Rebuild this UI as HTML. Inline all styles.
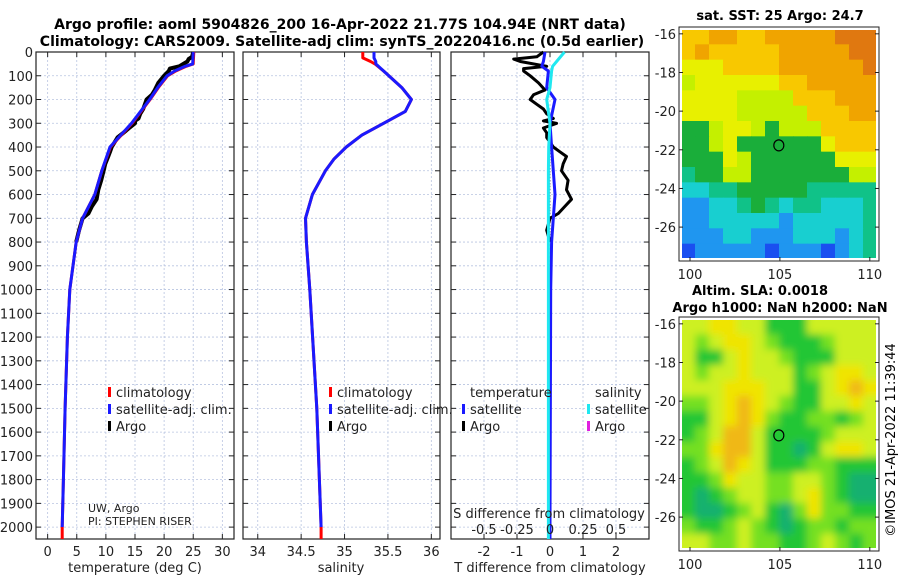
<!DOCTYPE html>
<html><head><meta charset="utf-8"><style>
html,body{margin:0;padding:0;background:#fff}
svg{display:block;font-family:"DejaVu Sans","Liberation Sans",sans-serif}
</style></head><body>
<svg id="c" width="900" height="580" viewBox="0 0 900 580" xmlns="http://www.w3.org/2000/svg">
<defs>
<filter id="blur" x="-5%" y="-5%" width="110%" height="110%"><feGaussianBlur stdDeviation="4"/></filter>
<clipPath id="slaClip"><rect x="681" y="319" width="196" height="230"/></clipPath>
</defs>
<text x="340" y="29" text-anchor="middle" font-size="14" font-weight="bold">Argo profile: aoml 5904826_200 16-Apr-2022 21.77S 104.94E (NRT data)</text>
<text x="342" y="46" text-anchor="middle" font-size="14" font-weight="bold">Climatology: CARS2009. Satellite-adj clim: synTS_20220416.nc (0.5d earlier)</text>
<text x="780" y="20" text-anchor="middle" font-size="13" font-weight="bold">sat. SST: 25 Argo: 24.7</text>
<text x="760" y="295" text-anchor="middle" font-size="13" font-weight="bold">Altim. SLA: 0.0018</text>
<text x="780" y="312" text-anchor="middle" font-size="13" font-weight="bold">Argo h1000: NaN h2000: NaN</text>
<text transform="translate(895,440) rotate(-90)" text-anchor="middle" font-size="13">©IMOS 21-Apr-2022 11:39:44</text>
<g id="g"></g>
</svg>
<script>
// ---- data ----
const depthT = [0,50,60,80,100,150,200,300,400,500,600,700,800,1000,1200,1500,1800,2000,2050];
const tempClim = [25.1,25.0,23.8,22.0,20.6,19.0,17.6,14.5,10.8,9.3,8.1,6.0,4.9,3.8,3.4,3.0,2.7,2.5,2.5];
const tempSat  = [25.0,24.9,23.6,21.8,20.5,18.9,17.5,14.4,10.7,9.3,8.1,6.0,4.9,3.8,3.4,3.0,2.7,2.5,2.5];
const depthA = [0,20,30,40,60,70,80,100,130,160,180,200,220,240,260,280,290,300,320,340,360,400,420,440,470,500,540,580,620,650,680,700,750,800];
const tempArgo = [25.0,24.8,24.2,24.0,22.6,21.0,20.8,20.0,19.0,18.4,17.9,17.0,16.7,16.4,15.9,15.6,15.0,15.0,14.0,13.0,12.0,11.0,10.7,10.4,9.9,9.6,9.2,8.7,8.4,7.6,7.0,6.0,5.4,4.9];
const depthS = [0,25,40,50,80,150,200,250,300,350,400,450,500,600,700,800,1000,1500,2000,2050];
const salClim = [35.21,35.21,35.30,35.35,35.45,35.66,35.77,35.70,35.45,35.20,35.02,34.88,34.78,34.63,34.55,34.56,34.60,34.68,34.73,34.73];
const salSat  = [35.34,35.34,35.36,35.36,35.45,35.66,35.77,35.70,35.45,35.20,35.02,34.88,34.78,34.63,34.55,34.56,34.60,34.68,34.73,34.73];
const tdiffArgo = [-0.2,-0.4,-1.1,-0.9,-0.1,-0.8,-0.8,-0.6,-0.35,-0.15,-0.5,-0.6,-0.4,-0.2,-0.1,0.1,-0.2,0.2,-0.2,-0.1,-0.1,0.1,0.3,0.5,0.4,0.35,0.55,0.5,0.65,0.45,0.25,0.0,-0.1,0.0];
const depthD = [0,40,60,80,150,200,300,400,500,600,700,800,1000,2000,2050];
const tdiffSat = [-0.15,-0.2,-0.25,-0.05,-0.1,0.15,0.0,0.05,0.1,0.15,0.1,0.05,0.02,0.0,0.0];
const sdiffSat = [0.11,0.05,0.02,0.012,0.0,-0.025,0.0,-0.01,-0.012,-0.012,-0.012,-0.012,-0.012,-0.012,-0.012];
const depthTicks = [0,100,200,300,400,500,600,700,800,900,1000,1100,1200,1300,1400,1500,1600,1700,1800,1900,2000];
const tempTicks = [0,5,10,15,20,25,30];
const salTicks = [34,34.5,35,35.5,36];
const salTickLabels = ["34","34.5","35","35.5","36"];
const tdTicks = [-2,-1,0,1,2];
const sdTicks = [-0.5,-0.25,0,0.25,0.5];
const sdTickLabels = ["-0.5","-0.25","0","0.25","0.5"];
const lonTicks = [100,105,110];
const latTicks = [-16,-18,-20,-22,-24,-26];
const argoLon = 104.94, argoLat = -21.77;
const sstGrid = [
[8,8,9,9,8,8,9,9,9,9,9,10,10,10],
[8,9,8,8,8,8,8,9,9,9,9,9,10,10],
[7,7,7,8,8,8,8,9,9,9,9,9,9,10],
[6,7,7,7,7,7,7,8,8,9,9,9,9,9],
[7,7,7,7,6,6,6,6,8,8,8,9,9,9],
[7,7,7,7,6,6,6,6,6,8,8,8,9,9],
[5,5,6,7,7,6,5,6,6,6,8,8,8,8],
[5,5,6,7,5,5,5,5,5,5,7,8,8,8],
[5,5,5,7,6,5,5,5,5,5,5,7,7,7],
[4,5,5,6,6,5,5,5,5,5,5,5,6,6],
[3,3,4,4,5,5,5,5,5,4,4,4,4,4],
[2,2,3,3,4,5,4,3,4,4,3,3,3,4],
[2,2,3,3,3,3,3,2,3,3,3,3,3,4],
[2,2,2,3,3,2,2,2,3,3,3,2,3,4],
[1,2,2,2,2,2,1,2,2,2,1,2,3,4]];
const slaGrid = [
[4,4,5,5,4,4,2,2,2,4,4,4,4,4],
[4,3,4,5,5,4,3,2,2,2,3,4,4,4],
[4,2,2,4,5,4,4,3,2,2,2,4,4,4],
[4,3,4,4,5,4,4,4,2,3,4,5,5,4],
[4,4,4,5,5,5,4,4,2,2,4,5,6,5],
[3,3,4,5,6,5,4,3,2,2,4,4,5,4],
[2,2,4,5,6,5,3,2,2,3,3,2,3,4],
[2,3,4,6,6,4,2,2,2,2,3,4,4,4],
[3,3,5,6,6,4,2,2,1,2,4,5,5,4],
[2,3,4,6,5,4,2,2,2,3,3,2,2,2],
[2,2,3,5,4,4,3,3,4,4,3,2,1,1],
[2,1,2,3,4,4,3,3,4,5,3,2,1,1],
[2,1,1,2,3,4,2,1,3,5,3,3,2,2],
[3,2,2,3,4,3,2,1,2,3,3,2,3,3],
[4,4,3,3,4,3,3,2,2,3,4,3,2,3]];

// ---- helpers ----
const NS="http://www.w3.org/2000/svg", G=document.getElementById('g');
function mk(tag,attrs,parent){const e=document.createElementNS(NS,tag);for(const k in attrs)e.setAttribute(k,attrs[k]);(parent||G).appendChild(e);return e;}
function txt(x,y,s,size,anchor,parent){const e=mk('text',{x:x,y:y,'font-size':size||13,'text-anchor':anchor||'middle',fill:'#222'},parent);e.textContent=s;return e;}
const plotTop=52, plotBot=539, dMax=2050;
const yD=d=>plotTop+(d/dMax)*(plotBot-plotTop);
function lin(d0,d1,r0,r1){return v=>r0+(v-d0)/(d1-d0)*(r1-r0);}

function panel(name,x0,x1,xs,xTicks,xLabels,showY){
  const g=mk('g',{});
  
  
  xTicks.forEach(t=>{const l=mk('line',{x1:xs(t),x2:xs(t),y1:plotTop,y2:plotBot,stroke:'#b8c4e0','stroke-width':0.8,'stroke-dasharray':'2,2'},g);});
  depthTicks.forEach(d=>{const l=mk('line',{x1:x0,x2:x1,y1:yD(d),y2:yD(d),stroke:'#b8c4e0','stroke-width':0.8,'stroke-dasharray':'2,2'},g);
    mk('line',{x1:x0,x2:x0+5,y1:yD(d),y2:yD(d),stroke:'#222'},g);mk('line',{x1:x1,x2:x1-5,y1:yD(d),y2:yD(d),stroke:'#222'},g);
    if(showY){const t=txt(33,yD(d)+5,String(d),13,'end',g);}});
  xTicks.forEach((t,i)=>{mk('line',{x1:xs(t),x2:xs(t),y1:plotBot,y2:plotBot-5,stroke:'#222'},g);mk('line',{x1:xs(t),x2:xs(t),y1:plotTop,y2:plotTop+5,stroke:'#222'},g);
    const e=txt(xs(t),556,xLabels[i],13,'middle',g);});
  const r=mk('rect',{x:x0,y:plotTop,width:x1-x0,height:plotBot-plotTop,fill:'none',stroke:'#222','stroke-width':1.2},g);
  
  return g;
}
function line(g,name,xs,xv,dv,color,w){const p=dv.map((d,i)=>xs(xv[i]).toFixed(1)+','+yD(d).toFixed(1)).join(' ');
  const e=mk('polyline',{points:p,fill:'none',stroke:color,'stroke-width':w||3,'stroke-linejoin':'round'},g);
  return e;}
function legend(g,x,y,color,label){const b=mk('rect',{x:x,y:y-10,width:3,height:10,fill:color},g);
  const t=txt(x+8,y,label,13,'start',g);}

// ---- panel 1: temperature ----
const xT=lin(-2,32,36,234);
const p1=panel('temperature-panel',36,234,xT,tempTicks,tempTicks.map(String),true);
line(p1,'argo-temperature-line',xT,tempArgo,depthA,'#000',4);
line(p1,'climatology-temperature-line',xT,tempClim,depthT,'#f00',3);
line(p1,'satellite-temperature-line',xT,tempSat.slice(0,-1),depthT.slice(0,-1),'#1a1aff',3);
let e=txt(135,572,'temperature (deg C)',13);
legend(p1,108,397,'#f00','climatology');legend(p1,108,414,'#1a1aff','satellite-adj. clim.');legend(p1,108,431,'#000','Argo');
e=txt(88,512,'UW, Argo',11,'start',p1);
e=txt(88,525,'PI: STEPHEN RISER',11,'start',p1);

// ---- panel 2: salinity ----
const xS=lin(33.83,36.1,243,440);
const p2=panel('salinity-panel',243,440,xS,salTicks,salTickLabels,false);
line(p2,'climatology-salinity-line',xS,salClim,depthS,'#f00',3);
line(p2,'satellite-salinity-line',xS,salSat.slice(0,-1),depthS.slice(0,-1),'#1a1aff',3);
e=txt(341,572,'salinity',13);
legend(p2,329,397,'#f00','climatology');legend(p2,329,414,'#1a1aff','satellite-adj. clim.');legend(p2,329,431,'#000','Argo');

// ---- panel 3: differences ----
const xD=lin(-3,3,451,649);
const xSD=v=>xD(v*4);
const p3=panel('difference-panel',451,649,xD,tdTicks,tdTicks.map(String),false);
mk('line',{x1:xD(0),x2:xD(0),y1:yD(300),y2:yD(800),stroke:'#555','stroke-width':1,'stroke-dasharray':'1,2'},p3);
line(p3,'argo-temperature-difference-line',xD,tdiffArgo,depthA,'#000',3);
line(p3,'satellite-temperature-difference-line',xD,tdiffSat,depthD,'#1a1aff',3);
line(p3,'satellite-salinity-difference-line',xSD,sdiffSat,depthD,'#20e8f0',3);
e=txt(550,572,'T difference from climatology',13);
e=txt(549,518,'S difference from climatology',13);
sdTicks.forEach((v,i)=>{const t=txt(xSD(v),534,sdTickLabels[i],13);});
e=txt(470,397,'temperature',13,'start',p3);
e=txt(595,397,'salinity',13,'start',p3);
legend(p3,462,414,'#1a1aff','satellite');legend(p3,462,431,'#000','Argo');
legend(p3,587,414,'#20e8f0','satellite');legend(p3,587,431,'#e020e0','Argo');

// ---- maps ----
const sstColors=['#1a4ff0','#1f96f0','#18cfd0','#10c288','#1aae3a','#c4f000','#e8f000','#f8c800','#f0a400','#e07810'];
const slaColors=['#14b070','#22c634','#74e024','#cdf020','#f0e400','#f0b818'];
function map(name,y0,y1,grid,colors,smooth){
  const x0=681,x1=877,lon0=99.5,lon1=110.4,lat0=-15.75,lat1=-27.65;
  const xl=lin(lon0,lon1,x0,x1), yl=lin(lat0,lat1,y0,y1);
  const g=mk('g',{});
  
  
  let cg=g;
  if(smooth){const outer=mk('g',{'clip-path':'url(#slaClip)'},g);cg=mk('g',{filter:'url(#blur)'},outer);}
  const nr=grid.length,nc=grid[0].length,cw=(x1-x0)/nc,ch=(y1-y0)/nr;
  grid.forEach((row,r)=>row.forEach((v,c)=>{
    let x=x0+c*cw,y=y0+r*ch,w=cw+0.6,h=ch+0.6;
    if(smooth){if(c===0){x-=8;w+=8;}if(c===nc-1)w+=8;if(r===0){y-=8;h+=8;}if(r===nr-1)h+=8;}
    const cell=mk('rect',{x:x.toFixed(2),y:y.toFixed(2),width:w.toFixed(2),height:h.toFixed(2),fill:colors[v-1]},cg);
    }));
  mk('rect',{x:x0,y:y0,width:x1-x0,height:y1-y0,fill:'none',stroke:'#fff','stroke-width':2},g);
  mk('rect',{x:x0-2,y:y0-2,width:x1-x0+4,height:y1-y0+4,fill:'none',stroke:'#222','stroke-width':1},g);
  lonTicks.forEach(t=>{mk('line',{x1:xl(t),x2:xl(t),y1:y1+2,y2:y1-2,stroke:'#222'},g);
    const s=txt(xl(t),y1+20,String(t),13,'middle',g);});
  latTicks.forEach(t=>{mk('line',{x1:x1+2,x2:x1-2,y1:yl(t),y2:yl(t),stroke:'#222'},g);mk('line',{x1:x0-2,x2:x0+2,y1:yl(t),y2:yl(t),stroke:'#222'},g);
    const s=txt(676,yl(t)+5,String(t),13,'end',g);});
  const m=mk('ellipse',{cx:xl(argoLon),cy:yl(argoLat),rx:5,ry:5.5,fill:'none',stroke:'#000','stroke-width':1.2},g);
  
}
map('sst-map',29,259,sstGrid,sstColors,false);
map('sla-map',319,549,slaGrid,slaColors,true);
</script>
</body></html>
